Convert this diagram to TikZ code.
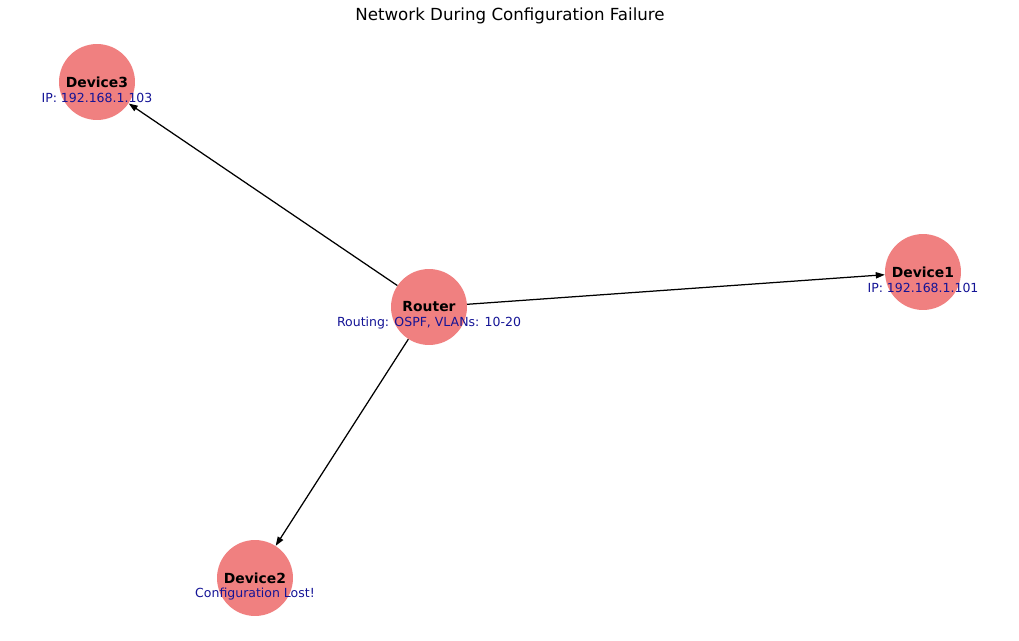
\documentclass[tikz,border=0pt]{standalone}
\usepackage{fontspec}
\setmainfont{DejaVu Sans}
\usepackage{xcolor}
\usetikzlibrary{
  arrows.meta,
  positioning
}
\definecolor{nodecoral}{RGB}{240,128,128}
\definecolor{infoblue}{RGB}{20,20,150}

\begin{document}
\begin{tikzpicture}[
  x=0.72pt, y=-0.72pt,
  device/.style={circle, fill=nodecoral, draw=none, minimum size=54.7pt, inner sep=0pt},
  devname/.style={font=\fontsize{10}{12}\selectfont\bfseries, inner sep=0pt},
  devinfo/.style={font=\fontsize{9}{11}\selectfont, text=infoblue, inner sep=0pt},
  arr/.style={-{Triangle[length=6.5pt, width=4.5pt]}, line width=0.9pt}
]
\useasboundingbox (0,0) rectangle (1019,640);

% Title
\node[font=\fontsize{12}{14}\selectfont] (title) at (510,16) {Network During Configuration Failure};

% Nodes
\node[device] (router) at (429,307) {};
\node[device] (dev1) at (923,272) {};
\node[device] (dev2) at (255,578) {};
\node[device] (dev3) at (97,82) {};

% Edges
\draw[arr] (router) -- (dev1);
\draw[arr] (router) -- (dev2);
\draw[arr] (router) -- (dev3);

% Labels
\node[devname] (router_name) at (router.center) {Router};
\node[devinfo] (router_info) at ([yshift=-11.5pt]router.center) {Routing: OSPF, VLANs: 10-20};
\node[devname] (dev1_name) at (dev1.center) {Device1};
\node[devinfo] (dev1_info) at ([yshift=-11.5pt]dev1.center) {IP: 192.168.1.101};
\node[devname] (dev2_name) at (dev2.center) {Device2};
\node[devinfo] (dev2_info) at ([yshift=-11.5pt]dev2.center) {Configuration Lost!};
\node[devname] (dev3_name) at (dev3.center) {Device3};
\node[devinfo] (dev3_info) at ([yshift=-11.5pt]dev3.center) {IP: 192.168.1.103};

\end{tikzpicture}
\end{document}
